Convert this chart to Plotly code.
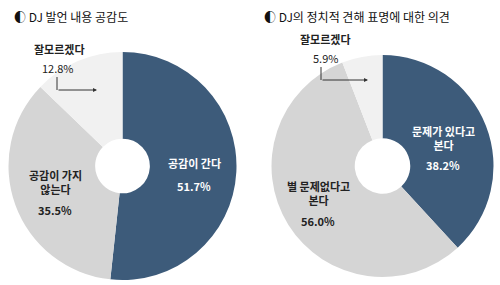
import plotly.graph_objects as go

# Data
left_labels = ["공감이 간다", "공감이 가지 않는다", "잘모르겠다"]
left_values = [51.7, 35.5, 12.8]
right_labels = ["문제가 있다고 본다", "별 문제없다고 본다", "잘모르겠다"]
right_values = [38.2, 56.0, 5.9]
titles = ["◐ DJ 발언 내용 공감도", "◐ DJ의 정치적 견해 표명에 대한 의견"]

colors = ["#3d5b7a", "#d5d5d5", "#f1f1f1"]
W, H = 500, 285
FONT = "Noto Sans CJK KR"


def px(x):
    return x / W


def py(y):
    return 1 - y / H


fig = go.Figure()
fig.add_trace(go.Pie(
    labels=left_labels, values=left_values, sort=False, direction="clockwise",
    rotation=0, hole=0.24, marker=dict(colors=colors, line=dict(width=0)),
    textinfo="none", hoverinfo="label+value", showlegend=False,
    domain=dict(x=[px(8.5), px(236.5)], y=[py(280), py(52)])))
fig.add_trace(go.Pie(
    labels=right_labels, values=right_values, sort=False, direction="clockwise",
    rotation=0, hole=0.25, marker=dict(colors=colors, line=dict(width=0)),
    textinfo="none", hoverinfo="label+value", showlegend=False,
    domain=dict(x=[px(271.5), px(493.5)], y=[py(277), py(55)])))

ann = []


def text(x, y, s, color="#222222", size=11, bold=True, xanchor="center"):
    ann.append(dict(x=px(x), y=py(y), xref="paper", yref="paper", text=("<b>%s</b>" % s) if bold else s,
                    showarrow=False, xanchor=xanchor, yanchor="middle",
                    font=dict(family=FONT, size=size, color=color)))


def wrap(label, n):
    parts = label.split(" ")
    return " ".join(parts[:n]) + "<br>" + " ".join(parts[n:])


text(12, 17, titles[0], size=12, bold=False, xanchor="left", color="#111111")
text(262, 17, titles[1], size=12, bold=False, xanchor="left", color="#111111")

# left pie labels
text(194, 163, left_labels[0], color="white")
text(194, 186, "%.1f%%" % left_values[0], color="white")
text(55, 182, wrap(left_labels[1], 2))
text(55, 210, "%.1f%%" % left_values[1])
text(59, 49, left_labels[2])
text(58, 68, "%.1f%%" % left_values[2], bold=False)

# right pie labels
text(443, 138, wrap(right_labels[0], 2), color="white")
text(443, 165, "%.1f%%" % right_values[0], color="white")
text(318, 193, wrap(right_labels[1], 2))
text(318, 221, "%.1f%%" % right_values[1])
text(325, 39, right_labels[2])
text(325, 58, "%.1f%%" % right_values[2], bold=False)

# arrows
shapes = [
    dict(type="line", xref="paper", yref="paper", x0=px(57), y0=py(77), x1=px(57), y1=py(90),
         line=dict(color="#333333", width=1)),
    dict(type="line", xref="paper", yref="paper", x0=px(321), y0=py(67), x1=px(321), y1=py(80),
         line=dict(color="#333333", width=1)),
]
ann.append(dict(x=px(97), y=py(90), xref="paper", yref="paper", ax=-40, ay=0, text="",
                showarrow=True, arrowhead=2, arrowsize=0.8, arrowwidth=1, arrowcolor="#333333"))
ann.append(dict(x=px(368), y=py(80), xref="paper", yref="paper", ax=-47, ay=0, text="",
                showarrow=True, arrowhead=2, arrowsize=0.8, arrowwidth=1, arrowcolor="#333333"))

fig.update_layout(width=W, height=H, margin=dict(l=0, r=0, t=0, b=0),
                  paper_bgcolor="white", plot_bgcolor="white",
                  annotations=ann, shapes=shapes, showlegend=False)
fig.write_html("out.html")
